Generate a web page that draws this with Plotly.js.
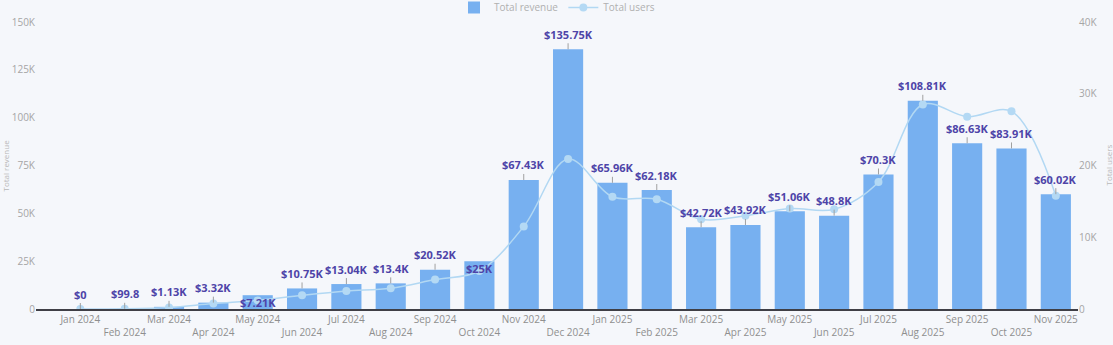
<!DOCTYPE html>
<html>
<head>
<meta charset="utf-8">
<script src="https://cdn.plot.ly/plotly-3.0.1.min.js"></script>
<style>
  html, body { margin: 0; padding: 0; background: #f5f7fb; }
  #chart { width: 1113px; height: 345px; }
</style>
</head>
<body>
<div id="chart"></div>
<script>
// ---- data ----
const months = ["Jan 2024", "Feb 2024", "Mar 2024", "Apr 2024", "May 2024", "Jun 2024",
  "Jul 2024", "Aug 2024", "Sep 2024", "Oct 2024", "Nov 2024", "Dec 2024",
  "Jan 2025", "Feb 2025", "Mar 2025", "Apr 2025", "May 2025", "Jun 2025",
  "Jul 2025", "Aug 2025", "Sep 2025", "Oct 2025", "Nov 2025"];
const totalRevenue = [0, 99.8, 1130, 3320, 7210, 10750, 13040, 13400, 20520, 25000, 67430, 135750,
  65960, 62180, 42720, 43920, 51060, 48800, 70300, 108810, 86630, 83910, 60020];
const totalUsers = [0, 20, 200, 750, 1200, 1900, 2500, 2900, 4100, 5300, 11500, 20900,
  15650, 15300, 12500, 13000, 14000, 13900, 17700, 28500, 26800, 27550, 15800];
const revenueTickVals = [0, 25000, 50000, 75000, 100000, 125000, 150000];
const revenueTickText = ["0", "25K", "50K", "75K", "100K", "125K", "150K"];
const usersTickVals = [0, 10000, 20000, 30000, 40000];
const usersTickText = ["0", "10K", "20K", "30K", "40K"];
// labels drawn over the bar top instead of above it (label layout in the reference)
const labelsOverBar = ["May 2024", "Oct 2024"];

// ---- helpers ----
function fmtMoney(v) {
  if (v < 1000) return "$" + (+v.toFixed(2));
  return "$" + (+(v / 1000).toFixed(2)) + "K";
}

const FONT = "'Open Sans', 'DejaVu Sans', sans-serif";
const LABEL_COLOR = "#4e44a8";

const tickText = months.map((m, i) => (i % 2 === 1 ? " <br>" + m : m));

const traces = [
  {
    type: "bar",
    name: "Total revenue",
    x: months,
    y: totalRevenue,
    marker: { color: "#77b0f0" },
    hoverinfo: "x+y"
  },
  {
    type: "scatter",
    mode: "lines+markers",
    name: "Total users",
    x: months,
    y: totalUsers,
    yaxis: "y2",
    line: { color: "#b2d8f3", width: 1.5, shape: "spline", smoothing: 1 },
    marker: { color: "#b4d9f4", size: 8 },
    hoverinfo: "x+y"
  }
];

const annotations = months.map((m, i) => {
  const inside = labelsOverBar.indexOf(m) >= 0;
  const a = {
    x: m, y: totalRevenue[i], xref: "x", yref: "y",
    text: "<b>" + fmtMoney(totalRevenue[i]) + "</b>",
    font: { family: FONT, size: 11, color: LABEL_COLOR },
    xanchor: "center"
  };
  if (inside) {
    a.showarrow = false;
    a.yanchor = "middle";
    a.yshift = -7;
  } else {
    a.showarrow = true;
    a.arrowhead = 0;
    a.arrowwidth = 1;
    a.arrowcolor = "#a0a0a0";
    a.ax = 0;
    a.ay = -15;
    a.standoff = 0;
  }
  return a;
});

// axis names, kept just inside the page edges
annotations.push({
  xref: "paper", yref: "paper", x: -31 / 1042, y: 0.5,
  text: "Total revenue", textangle: -90, showarrow: false,
  font: { family: FONT, size: 8, color: "#b8b8b8" }, xanchor: "center", yanchor: "middle"
});
annotations.push({
  xref: "paper", yref: "paper", x: 1 + 30 / 1042, y: 0.5,
  text: "Total users", textangle: -90, showarrow: false,
  font: { family: FONT, size: 8, color: "#b8b8b8" }, xanchor: "center", yanchor: "middle"
});

const layout = {
  width: 1113,
  height: 345,
  margin: { l: 36, r: 35, t: 22, b: 36, autoexpand: false },
  paper_bgcolor: "#f5f7fb",
  plot_bgcolor: "#f5f7fb",
  font: { family: FONT, size: 10, color: "#999999" },
  bargap: 0.32,
  showlegend: true,
  legend: {
    orientation: "h", x: 0.5, xanchor: "center", y: 1.0, yanchor: "bottom",
    font: { family: FONT, size: 10, color: "#b0b0b0" },
    bgcolor: "rgba(0,0,0,0)"
  },
  xaxis: {
    type: "category",
    range: [-1, 22.5],
    tickmode: "array",
    tickvals: months,
    ticktext: tickText,
    tickangle: 0,
    tickfont: { family: FONT, size: 10, color: "#8f8f8f" },
    showline: true,
    linecolor: "#3f3f46",
    linewidth: 1.5,
    showgrid: false,
    zeroline: false,
    ticks: "",
    fixedrange: true
  },
  yaxis: {
    range: [0, 150000],
    tickmode: "array",
    tickvals: revenueTickVals,
    ticktext: revenueTickText,
    tickfont: { family: FONT, size: 10, color: "#a5a5a5" },
    showgrid: false,
    zeroline: false,
    showline: false,
    ticks: "",
    fixedrange: true
  },
  yaxis2: {
    overlaying: "y",
    side: "right",
    range: [0, 40000],
    tickmode: "array",
    tickvals: usersTickVals,
    ticktext: usersTickText,
    tickfont: { family: FONT, size: 10, color: "#a5a5a5" },
    showgrid: false,
    zeroline: false,
    showline: false,
    ticks: "",
    fixedrange: true
  },
  annotations: annotations
};

Plotly.newPlot("chart", traces, layout, { displayModeBar: false, staticPlot: true });
</script>
</body>
</html>
